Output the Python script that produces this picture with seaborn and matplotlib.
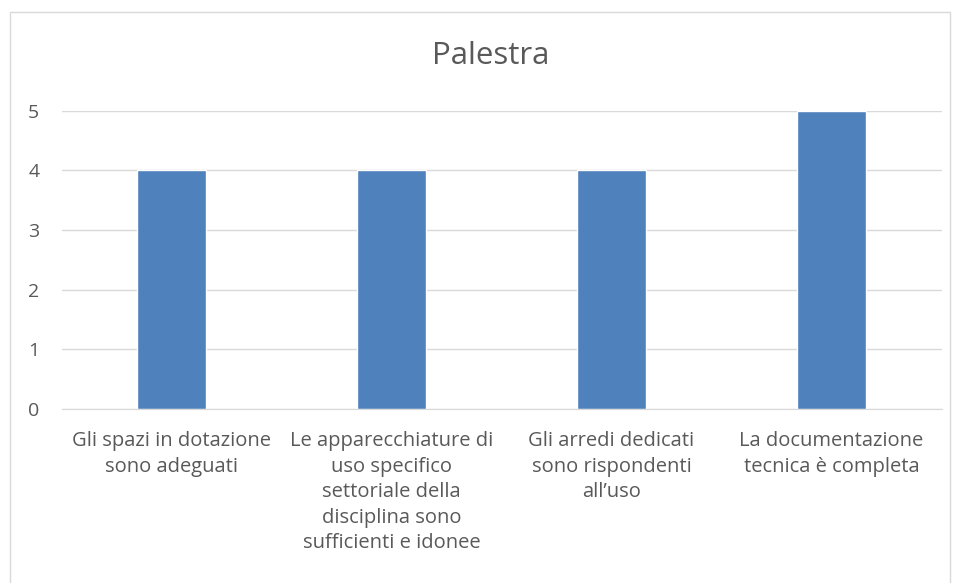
import matplotlib
matplotlib.use("Agg")
import matplotlib.pyplot as plt
from matplotlib.patches import Rectangle
import seaborn as sns
import pandas as pd

categories = [
    "Gli spazi in dotazione\nsono adeguati",
    "Le apparecchiature di\nuso specifico\nsettoriale della\ndisciplina sono\nsufficienti e idonee",
    "Gli arredi dedicati\nsono rispondenti\nall\u2019uso",
    "La documentazione\ntecnica \u00e8 completa",
]
values = [4, 4, 4, 5]
title = "Palestra"

sns.set_style("white")
plt.rcParams["font.family"] = ["Open Sans", "DejaVu Sans"]

df = pd.DataFrame({"cat": categories, "val": values})

fig = plt.figure(figsize=(9.59, 5.83), dpi=100)
ax = fig.add_axes([61.5 / 959, 1 - 409 / 583, 880 / 959, 298.5 / 583])

sns.barplot(data=df, x="cat", y="val", color="#4F81BD", width=0.314,
            saturation=1, ax=ax)

ax.set_ylim(0, 5)
ax.set_yticks(range(0, 6))
ax.yaxis.grid(True, color="#D9D9D9", linewidth=1)
ax.set_axisbelow(True)
for s in ["top", "right", "left"]:
    ax.spines[s].set_visible(False)
ax.spines["bottom"].set_color("#D9D9D9")
ax.tick_params(axis="both", length=0, colors="#595959")
ax.tick_params(axis="x", pad=16, labelsize=14.5)
ax.tick_params(axis="y", pad=16, labelsize=14)
for lab in ax.get_xticklabels():
    lab.set_linespacing(1.37)
ax.set_xlabel("")
ax.set_ylabel("")

fig.text(491 / 959, 1 - 56 / 583, title, ha="center", va="center",
         fontsize=22.5, color="#595959")

fig.patches.append(Rectangle((10 / 959, -0.02), 940 / 959, 1.02 - 12 / 583,
                             transform=fig.transFigure, fill=False,
                             edgecolor="#D9D9D9", linewidth=1))

fig.savefig("out.png", dpi=100)
